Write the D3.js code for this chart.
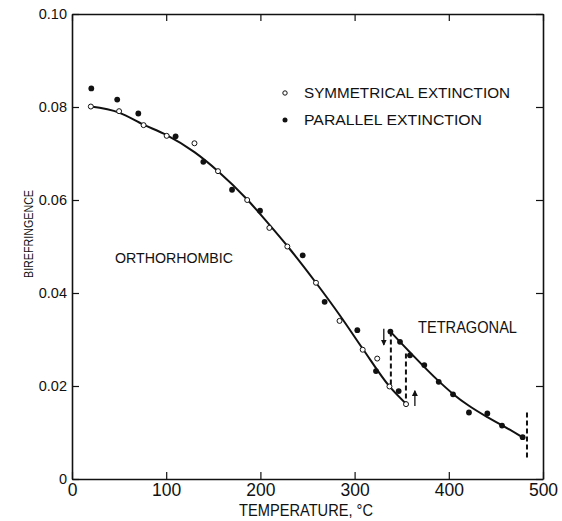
<!DOCTYPE html>
<html>
<head>
<meta charset="utf-8">
<script src="https://cdn.jsdelivr.net/npm/d3@7"></script>
<style>
  body { margin: 0; background: #fff; }
  text { font-family: "Liberation Sans", Arial, sans-serif; fill: #111; }
</style>
</head>
<body>
<div id="chart"></div>
<script>
// data
var xTicks = [0, 100, 200, 300, 400, 500];
var yTicks = [0, 0.02, 0.04, 0.06, 0.08, 0.10];

// symmetrical extinction (open circles)
var symT = [20, 50, 76, 100.5, 130, 155, 186, 209.5, 228.6, 259, 284, 308.6, 324, 337, 354.6];
var symB = [0.0801, 0.0791, 0.0761, 0.0738, 0.0722, 0.0662, 0.0600, 0.0540, 0.0500, 0.0422, 0.0340, 0.0278, 0.0259, 0.0199, 0.0161];

// parallel extinction (filled dots)
var parT = [20.5, 48, 70.4, 110, 139.4, 169.9, 199.6, 244.9, 268.2, 302.9, 322.7, 346.8, 338, 348.2, 358.8, 374, 389.3, 404.5, 421.4, 440.9, 456.5, 478.4];
var parB = [0.0840, 0.0816, 0.0786, 0.0737, 0.0682, 0.0622, 0.0577, 0.0481, 0.0381, 0.0320, 0.0232, 0.0189, 0.0317, 0.0295, 0.0266, 0.0245, 0.0209, 0.0182, 0.0143, 0.0141, 0.0115, 0.0090];

// orthorhombic curve
var orthoT = [20, 50, 76, 100, 130, 155, 186, 209, 229, 259, 285, 309, 337, 355];
var orthoB = [0.0801, 0.0788, 0.0762, 0.0740, 0.0703, 0.0662, 0.0601, 0.0548, 0.0500, 0.0422, 0.0350, 0.0279, 0.0199, 0.0161];

// tetragonal curve
var tetraT = [338, 360, 389, 404.5, 421, 441, 457, 478];
var tetraB = [0.0317, 0.0270, 0.0211, 0.0183, 0.0158, 0.0133, 0.0115, 0.0090];

// dashed verticals: temperature, top, bottom
var dashT = [338.5, 354.5, 483];
var dashTop = [0.0317, 0.0270, 0.0143];
var dashBot = [0.0199, 0.0161, 0.0043];

// arrows: temperature, from, to
var arrowT = [331, 364];
var arrowFrom = [0.0323, 0.0157];
var arrowTo = [0.0288, 0.0190];

var W = 562, H = 521;

var svg = d3.select("#chart").append("svg")
    .attr("width", W)
    .attr("height", H);

var x = d3.scaleLinear().domain([0, 500]).range([72, 543]);
var y = d3.scaleLinear().domain([0, 0.10]).range([479, 14]);

var defs = svg.append("defs");
defs.append("marker")
    .attr("id", "head")
    .attr("viewBox", "0 0 10 10")
    .attr("refX", 9).attr("refY", 5)
    .attr("markerWidth", 6).attr("markerHeight", 6)
    .attr("markerUnits", "userSpaceOnUse")
    .attr("orient", "auto")
    .append("path")
    .attr("d", "M0,0 L10,5 L0,10 z")
    .attr("fill", "#111");

// axes, ticks pointing inwards on all four sides
var xAxis = svg.append("g")
    .attr("transform", "translate(0," + y(0) + ")")
    .call(d3.axisBottom(x).tickValues(xTicks).tickSize(-7).tickSizeOuter(0).tickPadding(5)
        .tickFormat(d3.format("d")));
xAxis.selectAll("text").attr("font-size", 17.5);

var xTop = svg.append("g")
    .attr("transform", "translate(0," + y(0.10) + ")")
    .call(d3.axisTop(x).tickValues(xTicks).tickSize(-7).tickSizeOuter(0).tickFormat(""));

var yAxis = svg.append("g")
    .attr("transform", "translate(" + x(0) + ",0)")
    .call(d3.axisLeft(y).tickValues(yTicks).tickSize(-7).tickSizeOuter(0).tickPadding(5)
        .tickFormat(function(d) { return d === 0 ? "0" : d3.format(".2f")(d); }));
yAxis.selectAll("text").attr("font-size", 14.5);

var yRight = svg.append("g")
    .attr("transform", "translate(" + x(500) + ",0)")
    .call(d3.axisRight(y).tickValues(yTicks).tickSize(-7).tickSizeOuter(0).tickFormat(""));

svg.selectAll(".domain").attr("stroke", "#111").attr("stroke-width", 1.6);
svg.selectAll(".tick line").attr("stroke", "#111").attr("stroke-width", 1.2);
svg.selectAll(".tick text").attr("fill", "#111")
    .attr("font-family", "'Liberation Sans', Arial, sans-serif");

// axis titles
svg.append("text")
    .attr("x", 306).attr("y", 510)
    .attr("text-anchor", "middle").attr("dominant-baseline", "central")
    .attr("font-size", 17)
    .attr("textLength", 134).attr("lengthAdjust", "spacingAndGlyphs")
    .text("TEMPERATURE, \u00B0C");

svg.append("text")
    .attr("transform", "translate(29,234) rotate(-90)")
    .attr("text-anchor", "middle").attr("dominant-baseline", "central")
    .attr("font-size", 12.5)
    .attr("textLength", 88).attr("lengthAdjust", "spacingAndGlyphs")
    .text("BIREFRINGENCE");

// curves
var line = d3.line()
    .x(function(d) { return x(d[0]); })
    .y(function(d) { return y(d[1]); })
    .curve(d3.curveMonotoneX);

var ortho = orthoT.map(function(t, i) { return [t, orthoB[i]]; });
var tetra = tetraT.map(function(t, i) { return [t, tetraB[i]]; });

svg.append("path").datum(ortho)
    .attr("d", line)
    .attr("fill", "none").attr("stroke", "#111").attr("stroke-width", 2);

svg.append("path").datum(tetra)
    .attr("d", line)
    .attr("fill", "none").attr("stroke", "#111").attr("stroke-width", 2);

// dashed verticals
svg.selectAll(".dash").data(dashT).enter().append("line")
    .attr("class", "dash")
    .attr("x1", function(d) { return x(d); })
    .attr("x2", function(d) { return x(d); })
    .attr("y1", function(d, i) { return y(dashTop[i]); })
    .attr("y2", function(d, i) { return y(dashBot[i]); })
    .attr("stroke", "#111").attr("stroke-width", 2)
    .attr("stroke-dasharray", "5,3");

// arrows
svg.selectAll(".arrow").data(arrowT).enter().append("line")
    .attr("class", "arrow")
    .attr("x1", function(d) { return x(d); })
    .attr("x2", function(d) { return x(d); })
    .attr("y1", function(d, i) { return y(arrowFrom[i]); })
    .attr("y2", function(d, i) { return y(arrowTo[i]); })
    .attr("stroke", "#111").attr("stroke-width", 1.3)
    .attr("marker-end", "url(#head)");

// points
svg.selectAll(".par").data(parT).enter().append("circle")
    .attr("class", "par")
    .attr("cx", function(d) { return x(d); })
    .attr("cy", function(d, i) { return y(parB[i]); })
    .attr("r", 2.9)
    .attr("fill", "#111");

svg.selectAll(".sym").data(symT).enter().append("circle")
    .attr("class", "sym")
    .attr("cx", function(d) { return x(d); })
    .attr("cy", function(d, i) { return y(symB[i]); })
    .attr("r", 2.5)
    .attr("fill", "#fff").attr("stroke", "#111").attr("stroke-width", 1);

// legend
var legend = svg.append("g");
legend.append("circle").attr("cx", 285).attr("cy", 93).attr("r", 2.2)
    .attr("fill", "#fff").attr("stroke", "#111").attr("stroke-width", 1);
legend.append("circle").attr("cx", 285).attr("cy", 120).attr("r", 2.5).attr("fill", "#111");
legend.append("text").attr("x", 304).attr("y", 93)
    .attr("dominant-baseline", "central").attr("font-size", 14)
    .attr("textLength", 206).attr("lengthAdjust", "spacingAndGlyphs")
    .text("SYMMETRICAL EXTINCTION");
legend.append("text").attr("x", 304).attr("y", 120)
    .attr("dominant-baseline", "central").attr("font-size", 14)
    .attr("textLength", 178).attr("lengthAdjust", "spacingAndGlyphs")
    .text("PARALLEL EXTINCTION");

// phase labels
svg.append("text").attr("x", 115).attr("y", 257)
    .attr("dominant-baseline", "central").attr("font-size", 15)
    .attr("textLength", 118).attr("lengthAdjust", "spacingAndGlyphs")
    .text("ORTHORHOMBIC");
svg.append("text").attr("x", 418).attr("y", 327)
    .attr("dominant-baseline", "central").attr("font-size", 17)
    .attr("textLength", 99).attr("lengthAdjust", "spacingAndGlyphs")
    .text("TETRAGONAL");
</script>
</body>
</html>
